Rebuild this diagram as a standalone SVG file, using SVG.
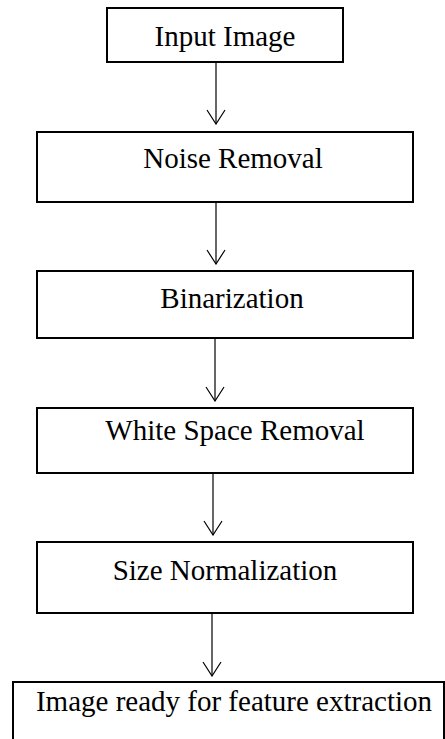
<svg xmlns="http://www.w3.org/2000/svg" width="445" height="739" viewBox="0 0 445 739">
<defs>
<style>
.box{fill:#fff;stroke:#000;stroke-width:2}
.lbl{font-family:"Liberation Serif","Times New Roman",serif;font-size:29px;fill:#000;text-anchor:middle}
.con{fill:none;stroke:#000;stroke-width:1.2}
</style>
<marker id="ah" viewBox="0 0 16 20" refX="15" refY="10" markerWidth="16" markerHeight="20" markerUnits="userSpaceOnUse" orient="auto">
<path d="M1,1 L15,10 L1,19" fill="none" stroke="#000" stroke-width="1.2"/>
</marker>
</defs>
<rect width="445" height="739" fill="#fff"/>
<g id="connectors">
<line class="con" x1="216" y1="62" x2="216" y2="124" marker-end="url(#ah)"/>
<line class="con" x1="216" y1="202" x2="216" y2="264" marker-end="url(#ah)"/>
<line class="con" x1="215" y1="338" x2="215" y2="401" marker-end="url(#ah)"/>
<line class="con" x1="213" y1="473" x2="213" y2="535" marker-end="url(#ah)"/>
<line class="con" x1="212" y1="613" x2="212" y2="676" marker-end="url(#ah)"/>
</g>
<g id="input-image">
<rect class="box" x="107" y="8" width="236" height="54"/>
<text class="lbl" x="225" y="46">Input Image</text>
</g>
<g id="noise-removal">
<rect class="box" x="37" y="132" width="376" height="70"/>
<text class="lbl" x="233" y="168">Noise Removal</text>
</g>
<g id="binarization">
<rect class="box" x="37" y="271" width="376" height="67"/>
<text class="lbl" x="232" y="308">Binarization</text>
</g>
<g id="white-space-removal">
<rect class="box" x="37" y="408" width="376" height="65"/>
<text class="lbl" x="235" y="440">White Space Removal</text>
</g>
<g id="size-normalization">
<rect class="box" x="37" y="542" width="376" height="71"/>
<text class="lbl" x="225" y="580">Size Normalization</text>
</g>
<g id="feature-extraction">
<rect class="box" x="13" y="682" width="431" height="60"/>
<text class="lbl" x="234" y="711">Image ready for feature extraction</text>
</g>
</svg>
